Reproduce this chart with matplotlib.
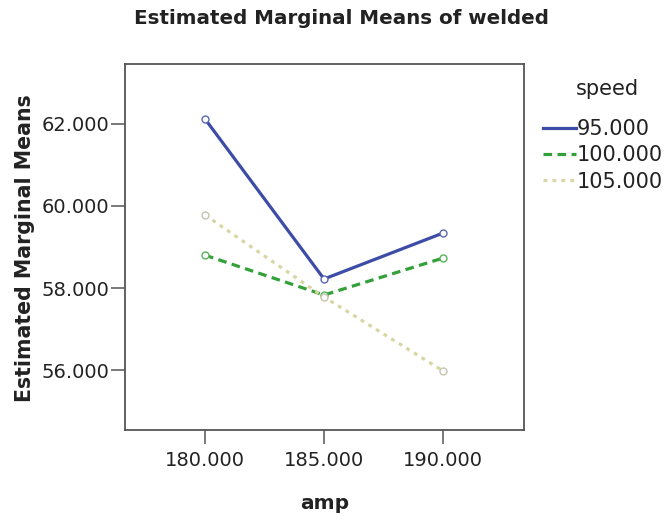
import matplotlib
matplotlib.use("Agg")
from matplotlib import pyplot as plt

plt.rcParams['font.family'] = ['DejaVu Sans']

amp = [180, 185, 190]
speed_labels = ['95.000', '100.000', '105.000']
means_95 = [62.12, 58.22, 59.34]
means_100 = [58.80, 57.83, 58.73]
means_105 = [59.78, 57.78, 55.98]

x_ticks = [180, 185, 190]
y_ticks = [56, 58, 60, 62]

series = [
    (means_95, '#3d4ca6', '-', '#5a68b4'),
    (means_100, '#33a03a', (0, (2.7, 1.7)), '#55b45a'),
    (means_105, '#d8d6a4', (0, (1.2, 1.6)), '#c4c4b0'),
]

fig = plt.figure(figsize=(6.7, 5.16), dpi=100)
ax = fig.add_axes([0.1866, 0.1667, 0.5955, 0.7093])

handles = []
for (vals, color, ls, mcol), lab in zip(series, speed_labels):
    h, = ax.plot(amp, vals, color=color, linestyle=ls, linewidth=2.3,
                 marker='o', markersize=5, markerfacecolor='white',
                 markeredgecolor=mcol, markeredgewidth=1.0, label=lab)
    handles.append(h)

ax.set_xlim(176.64, 193.4)
ax.set_ylim(54.54, 63.46)
ax.set_xticks(x_ticks)
ax.set_yticks(y_ticks)
ax.set_xticklabels([f"{v:.3f}" for v in x_ticks])
ax.set_yticklabels([f"{v:.3f}" for v in y_ticks])
ax.tick_params(direction='out', length=10, width=1.1, color='#555555',
               labelsize=14, labelcolor='#222222')
ax.tick_params(axis='x', pad=5)
ax.tick_params(axis='y', pad=1.5)
for s in ax.spines.values():
    s.set_color('#555555')
    s.set_linewidth(1.3)

fig.text(0.4843, 0.0136, 'amp', ha='center', va='baseline',
         fontsize=14.5, fontweight='bold', color='#222222')
fig.text(0.038, 0.519, 'Estimated Marginal Means', ha='center', va='center',
         rotation=90, fontsize=14.8, fontweight='bold', color='#222222')
fig.text(0.509, 0.965, 'Estimated Marginal Means of welded', ha='center', va='center',
         fontsize=14.3, fontweight='bold', color='#222222')

# legend title placed separately so the gap below it can be set
fig.text(0.906, 0.8275, 'speed', ha='center', va='center',
         fontsize=15, color='#222222')
leg = ax.legend(handles=handles, loc='upper left',
                bbox_to_anchor=(0.810, 0.769), bbox_transform=fig.transFigure,
                frameon=False, fontsize=15,
                handlelength=1.6, handletextpad=0.05, labelspacing=0.3,
                borderaxespad=0, borderpad=0)
for t in leg.get_texts():
    t.set_color('#222222')
for lh in leg.get_lines():
    lh.set_marker('')

fig.savefig('out.png', dpi=100)
